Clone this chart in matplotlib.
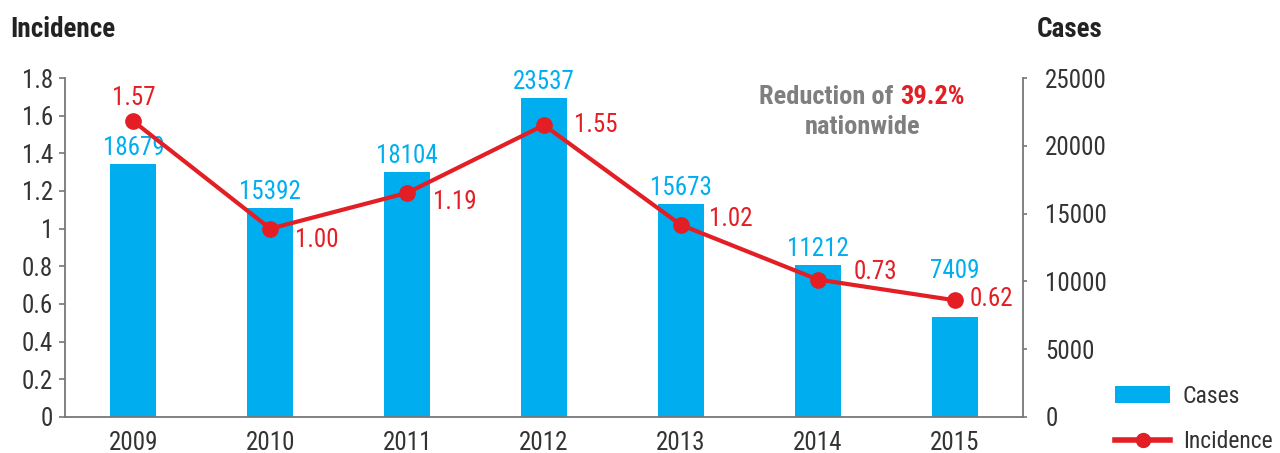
import matplotlib.pyplot as plt
from matplotlib.patches import Patch
from matplotlib.lines import Line2D

plt.rcParams['font.family'] = ['Roboto Condensed', 'Archivo Narrow', 'DejaVu Sans']

years = ['2009', '2010', '2011', '2012', '2013', '2014', '2015']
cases = [18679, 15392, 18104, 23537, 15673, 11212, 7409]
incidence = [1.57, 1.00, 1.19, 1.55, 1.02, 0.73, 0.62]
inc_ticks = [0, 0.2, 0.4, 0.6, 0.8, 1, 1.2, 1.4, 1.6, 1.8]
case_ticks = [0, 5000, 10000, 15000, 20000, 25000]

BLUE = '#00aeef'
RED = '#e31e24'
GREY = '#7f7f7f'
TXT = '#333333'
AXC = '#777777'
FS = 18
PT = 0.72  # px -> pt at 100 dpi

fig = plt.figure(figsize=(12.8, 4.53), dpi=100)
ax = fig.add_axes([0.0508, 0.0795, 0.7484, 0.7483])
ax2 = ax.twinx()

x = list(range(len(years)))

# bars -> cases (right axis)
ax2.bar(x, cases, width=0.336, color=BLUE, zorder=2)
case_dy = [0, 0, 0, 0, 0, 0, 30]  # last label lifted above the line
for xi, c, dy in zip(x, cases, case_dy):
    ax2.annotate(str(c), (xi, c), xytext=(0, 4 * PT + dy * PT),
                 textcoords='offset points', ha='center', va='bottom',
                 color=BLUE, fontsize=FS)

# line -> incidence (left axis), drawn above bars
ax.set_zorder(ax2.get_zorder() + 1)
ax.patch.set_visible(False)
ax.plot(x, incidence, color=RED, lw=3, marker='o', ms=11, zorder=3)

# label offsets in pixels (dx, dy)
offs = [(0, 23), (25, -11), (26, -9), (30, 0), (28, 6), (36, 8), (15, 1)]
for xi, v, (dx, dy) in zip(x, incidence, offs):
    ha = 'center' if dx == 0 else 'left'
    ax.annotate(f'{v:.2f}', (xi, v), xytext=(dx * PT, dy * PT),
                textcoords='offset points', ha=ha, va='center',
                color=RED, fontsize=FS)

ax.set_xlim(-0.5, 6.5)
ax.set_ylim(0, 1.8)
ax2.set_ylim(0, 25000)
ax.set_yticks(inc_ticks)
ax.set_yticklabels([f'{t:g}' for t in inc_ticks])
ax2.set_yticks(case_ticks)
ax2.set_yticklabels([str(t) for t in case_ticks])
ax.set_xticks(x)
ax.set_xticklabels(years)

for a in (ax, ax2):
    for s in a.spines.values():
        s.set_visible(False)
    a.tick_params(colors=AXC, labelcolor=TXT, labelsize=FS, width=1.2)
ax.spines['left'].set_visible(True)
ax.spines['bottom'].set_visible(True)
ax2.spines['right'].set_visible(True)
for s in (ax.spines['left'], ax.spines['bottom'], ax2.spines['right']):
    s.set_color(AXC)
    s.set_linewidth(1.3)
ax.tick_params(axis='x', length=0, pad=10)
ax.tick_params(axis='y', length=4, pad=4.5)
ax2.tick_params(axis='y', length=3, pad=13)

fig.text(0.008, 0.935, 'Incidence', fontsize=19.5, fontweight='bold', color='#222222',
         va='center', ha='left')
fig.text(0.810, 0.935, 'Cases', fontsize=19.5, fontweight='bold', color='#222222',
         va='center', ha='left')

# annotation
fig.text(0.703, 0.786, 'Reduction of ', fontsize=19, fontweight='bold',
         color=GREY, ha='right', va='center')
fig.text(0.703, 0.786, '39.2%', fontsize=19, fontweight='bold', color=RED,
         ha='left', va='center')
fig.text(0.674, 0.720, 'nationwide', fontsize=19, fontweight='bold', color=GREY,
         ha='center', va='center')

handles = [Patch(facecolor=BLUE, edgecolor='none'),
           Line2D([0], [0], color=RED, lw=4, marker='o', ms=10)]
fig.legend(handles, ['Cases', 'Incidence'], loc='lower left',
           bbox_to_anchor=(1113 / 1280, -0.006), frameon=False, fontsize=17,
           handlelength=2.3, handleheight=0.7, labelspacing=0.95,
           handletextpad=0.55, borderpad=0.1, borderaxespad=0,
           labelcolor=TXT)

fig.savefig('out.png', dpi=100)
